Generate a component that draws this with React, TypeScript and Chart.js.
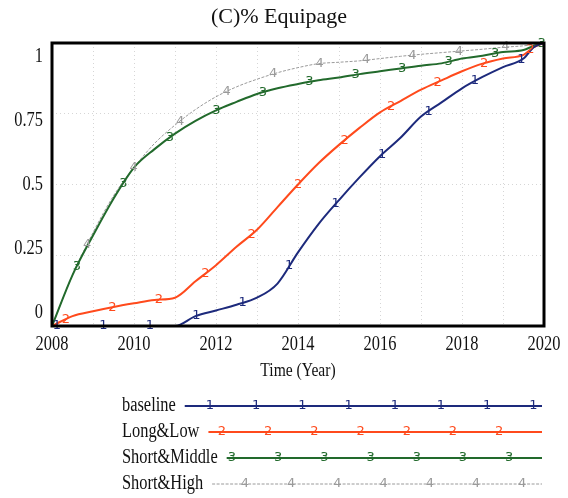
import React, { useEffect, useRef } from "react";
import { Chart, registerables } from "chart.js";

Chart.register(...registerables);

// ---------- data ----------
const years = [
  2008, 2008.5, 2009, 2009.5, 2010, 2010.5, 2011, 2011.5, 2012, 2012.5, 2013, 2013.5,
  2014, 2014.5, 2015, 2015.5, 2016, 2016.5, 2017, 2017.5, 2018, 2018.5, 2019, 2019.5,
  2019.75, 2020,
];
const seriesNames = ["baseline", "Long&Low", "Short&Middle", "Short&High"];
const baseline = [
  0, 0, 0, 0, 0, 0, 0, 0.035, 0.055, 0.075, 0.1, 0.15, 0.26, 0.36, 0.445, 0.525, 0.6,
  0.665, 0.74, 0.79, 0.84, 0.88, 0.915, 0.945, 0.985, 1.0,
];
const longLow = [
  0, 0.035, 0.052, 0.067, 0.08, 0.092, 0.1, 0.158, 0.215, 0.28, 0.34, 0.42, 0.5, 0.575,
  0.64, 0.7, 0.755, 0.795, 0.835, 0.868, 0.9, 0.927, 0.945, 0.958, 0.985, 1.0,
];
const shortMiddle = [
  0, 0.18, 0.32, 0.45, 0.56, 0.625, 0.68, 0.725, 0.762, 0.792, 0.82, 0.84, 0.855, 0.868,
  0.878, 0.89, 0.9, 0.91, 0.92, 0.928, 0.945, 0.955, 0.968, 0.975, 0.99, 1.0,
];
const shortHigh = [
  0, 0.18, 0.33, 0.46, 0.56, 0.645, 0.71, 0.765, 0.81, 0.845, 0.872, 0.895, 0.913, 0.927,
  0.932, 0.937, 0.945, 0.953, 0.96, 0.966, 0.972, 0.978, 0.985, 0.99, 0.995, 1.0,
];
const xTickValues = [2008, 2010, 2012, 2014, 2016, 2018, 2020];
const xTickLabels = ["2008", "2010", "2012", "2014", "2016", "2018", "2020"];
const yTickValues = [0, 0.25, 0.5, 0.75, 1];
const yTickLabels = ["0", "0.25", "0.5", "0.75", "1"];
const chartTitle = "(C)% Equipage";
const xAxisTitle = "Time (Year)";

// ---------- styles ----------
const colors = ["#1d2a7c", "#ff4a1c", "#226a2c", "#9a9a9a"];
const widths = [2, 2, 2, 1];
const dashes: number[][] = [[], [], [], [3, 1.5]];
const markerStart = [2008.12, 2008.34, 2008.61, 2008.86];
const markerStep = 1.133;
const legendMarkerStart = [210, 222, 232, 245];
const legendMarkerStep = 46.2;
const legendRows = [406, 432, 458, 484];
const SERIF = '"Liberation Serif", "Times New Roman", serif';
const SX = 0.82;

function drawText(
  ctx: CanvasRenderingContext2D,
  s: string,
  x: number,
  y: number,
  size: number,
  align: CanvasTextAlign,
  sx = SX,
  color = "#111"
) {
  ctx.save();
  ctx.translate(x, y);
  ctx.scale(sx, 1);
  ctx.font = `${size}px ${SERIF}`;
  ctx.textAlign = align;
  ctx.textBaseline = "middle";
  ctx.fillStyle = color;
  ctx.fillText(s, 0, 0);
  ctx.restore();
}

function interp(pts: { x: number; y: number }[], t: number) {
  for (let i = 1; i < pts.length; i++) {
    if (t <= pts[i].x) {
      const a = pts[i - 1];
      const b = pts[i];
      const f = (t - a.x) / (b.x - a.x);
      return a.y + f * (b.y - a.y);
    }
  }
  return pts[pts.length - 1].y;
}

const overlay = {
  id: "overlay",
  afterDatasetsDraw(chart: any) {
    const { ctx, chartArea: a, scales } = chart;
    const xs = scales.x;
    const ys = scales.y;
    // series number markers
    chart.data.datasets.forEach((ds: any, i: number) => {
      ctx.save();
      ctx.font = '13px "DejaVu Sans"';
      ctx.fillStyle = colors[i];
      ctx.textAlign = "center";
      ctx.textBaseline = "middle";
      for (let t = markerStart[i]; t <= 2020.001; t += markerStep) {
        const v = interp(ds.data, t);
        ctx.fillText(String(i + 1), xs.getPixelForValue(t), ys.getPixelForValue(v));
      }
      ctx.restore();
    });
    // frame
    ctx.save();
    ctx.strokeStyle = "#000";
    ctx.lineWidth = 3;
    ctx.strokeRect(a.left, a.top, a.right - a.left, a.bottom - a.top);
    ctx.restore();
  },
  afterDraw(chart: any) {
    const { ctx, chartArea: a, scales } = chart;
    const xs = scales.x;
    const ys = scales.y;
    // title
    drawText(ctx, chartTitle, 279, 17, 22, "center", 1);
    // y labels (Vensim style, pulled toward center)
    yTickValues.forEach((v, i) => {
      const py = ys.getPixelForValue(v) + (v - 0.5) * 27 + 0.5;
      drawText(ctx, yTickLabels[i], a.left - 9, py, 20, "right");
    });
    // x labels
    xTickValues.forEach((v, i) => {
      drawText(ctx, xTickLabels[i], xs.getPixelForValue(v), a.bottom + 19, 20, "center");
    });
    drawText(ctx, xAxisTitle, (a.left + a.right) / 2, a.bottom + 45, 19, "center");
    // legend
    chart.data.datasets.forEach((ds: any, i: number) => {
      const y = legendRows[i];
      const lx = 122;
      drawText(ctx, ds.label, lx, y, 20, "left");
      ctx.save();
      ctx.font = `20px ${SERIF}`;
      const w = ctx.measureText(ds.label).width * SX;
      ctx.restore();
      const start = lx + w + 9;
      const end = 542;
      ctx.save();
      ctx.strokeStyle = colors[i];
      ctx.lineWidth = widths[i];
      ctx.setLineDash(dashes[i]);
      ctx.beginPath();
      ctx.moveTo(start, y);
      ctx.lineTo(end, y);
      ctx.stroke();
      ctx.setLineDash([]);
      ctx.font = '13px "DejaVu Sans"';
      ctx.fillStyle = colors[i];
      ctx.textAlign = "center";
      ctx.textBaseline = "middle";
      for (let mx = legendMarkerStart[i]; mx <= 540; mx += legendMarkerStep) {
        ctx.fillText(String(i + 1), mx, y);
      }
      ctx.restore();
    });
  },
};

export default function App() {
  const ref = useRef<HTMLCanvasElement | null>(null);
  useEffect(() => {
    if (!ref.current) return;
    const all = [baseline, longLow, shortMiddle, shortHigh];
    const chart = new Chart(ref.current, {
      type: "line",
      data: {
        datasets: all.map((vals, i) => ({
          label: seriesNames[i],
          data: years.map((yr, k) => ({ x: yr, y: vals[k] })),
          borderColor: colors[i],
          backgroundColor: colors[i],
          borderWidth: widths[i],
          borderDash: dashes[i],
          pointRadius: 0,
          cubicInterpolationMode: "monotone" as const,
          fill: false,
        })),
      },
      options: {
        animation: false,
        responsive: false,
        layout: { padding: { top: 43, right: 24, left: 0, bottom: 0 } },
        plugins: { legend: { display: false }, title: { display: false }, tooltip: { enabled: false } },
        scales: {
          x: {
            type: "linear",
            min: 2008,
            max: 2020,
            ticks: { stepSize: 1, display: false },
            grid: { color: "rgba(0,0,0,0.16)", drawTicks: false, lineWidth: 1 },
            border: { display: false, dash: [1, 3] },
            afterFit: (s: any) => {
              s.height = 172;
            },
          },
          y: {
            min: 0,
            max: 1,
            ticks: { stepSize: 0.25, display: false },
            grid: { color: "rgba(0,0,0,0.16)", drawTicks: false, lineWidth: 1 },
            border: { display: false, dash: [1, 3] },
            afterFit: (s: any) => {
              s.width = 52;
            },
          },
        },
      },
      plugins: [overlay],
    });
    return () => chart.destroy();
  }, []);
  return (
    <div style={{ position: "absolute", left: 0, top: 0, width: 568, height: 498, background: "#fff" }}>
      <canvas ref={ref} width={568} height={498} style={{ display: "block" }} />
    </div>
  );
}
